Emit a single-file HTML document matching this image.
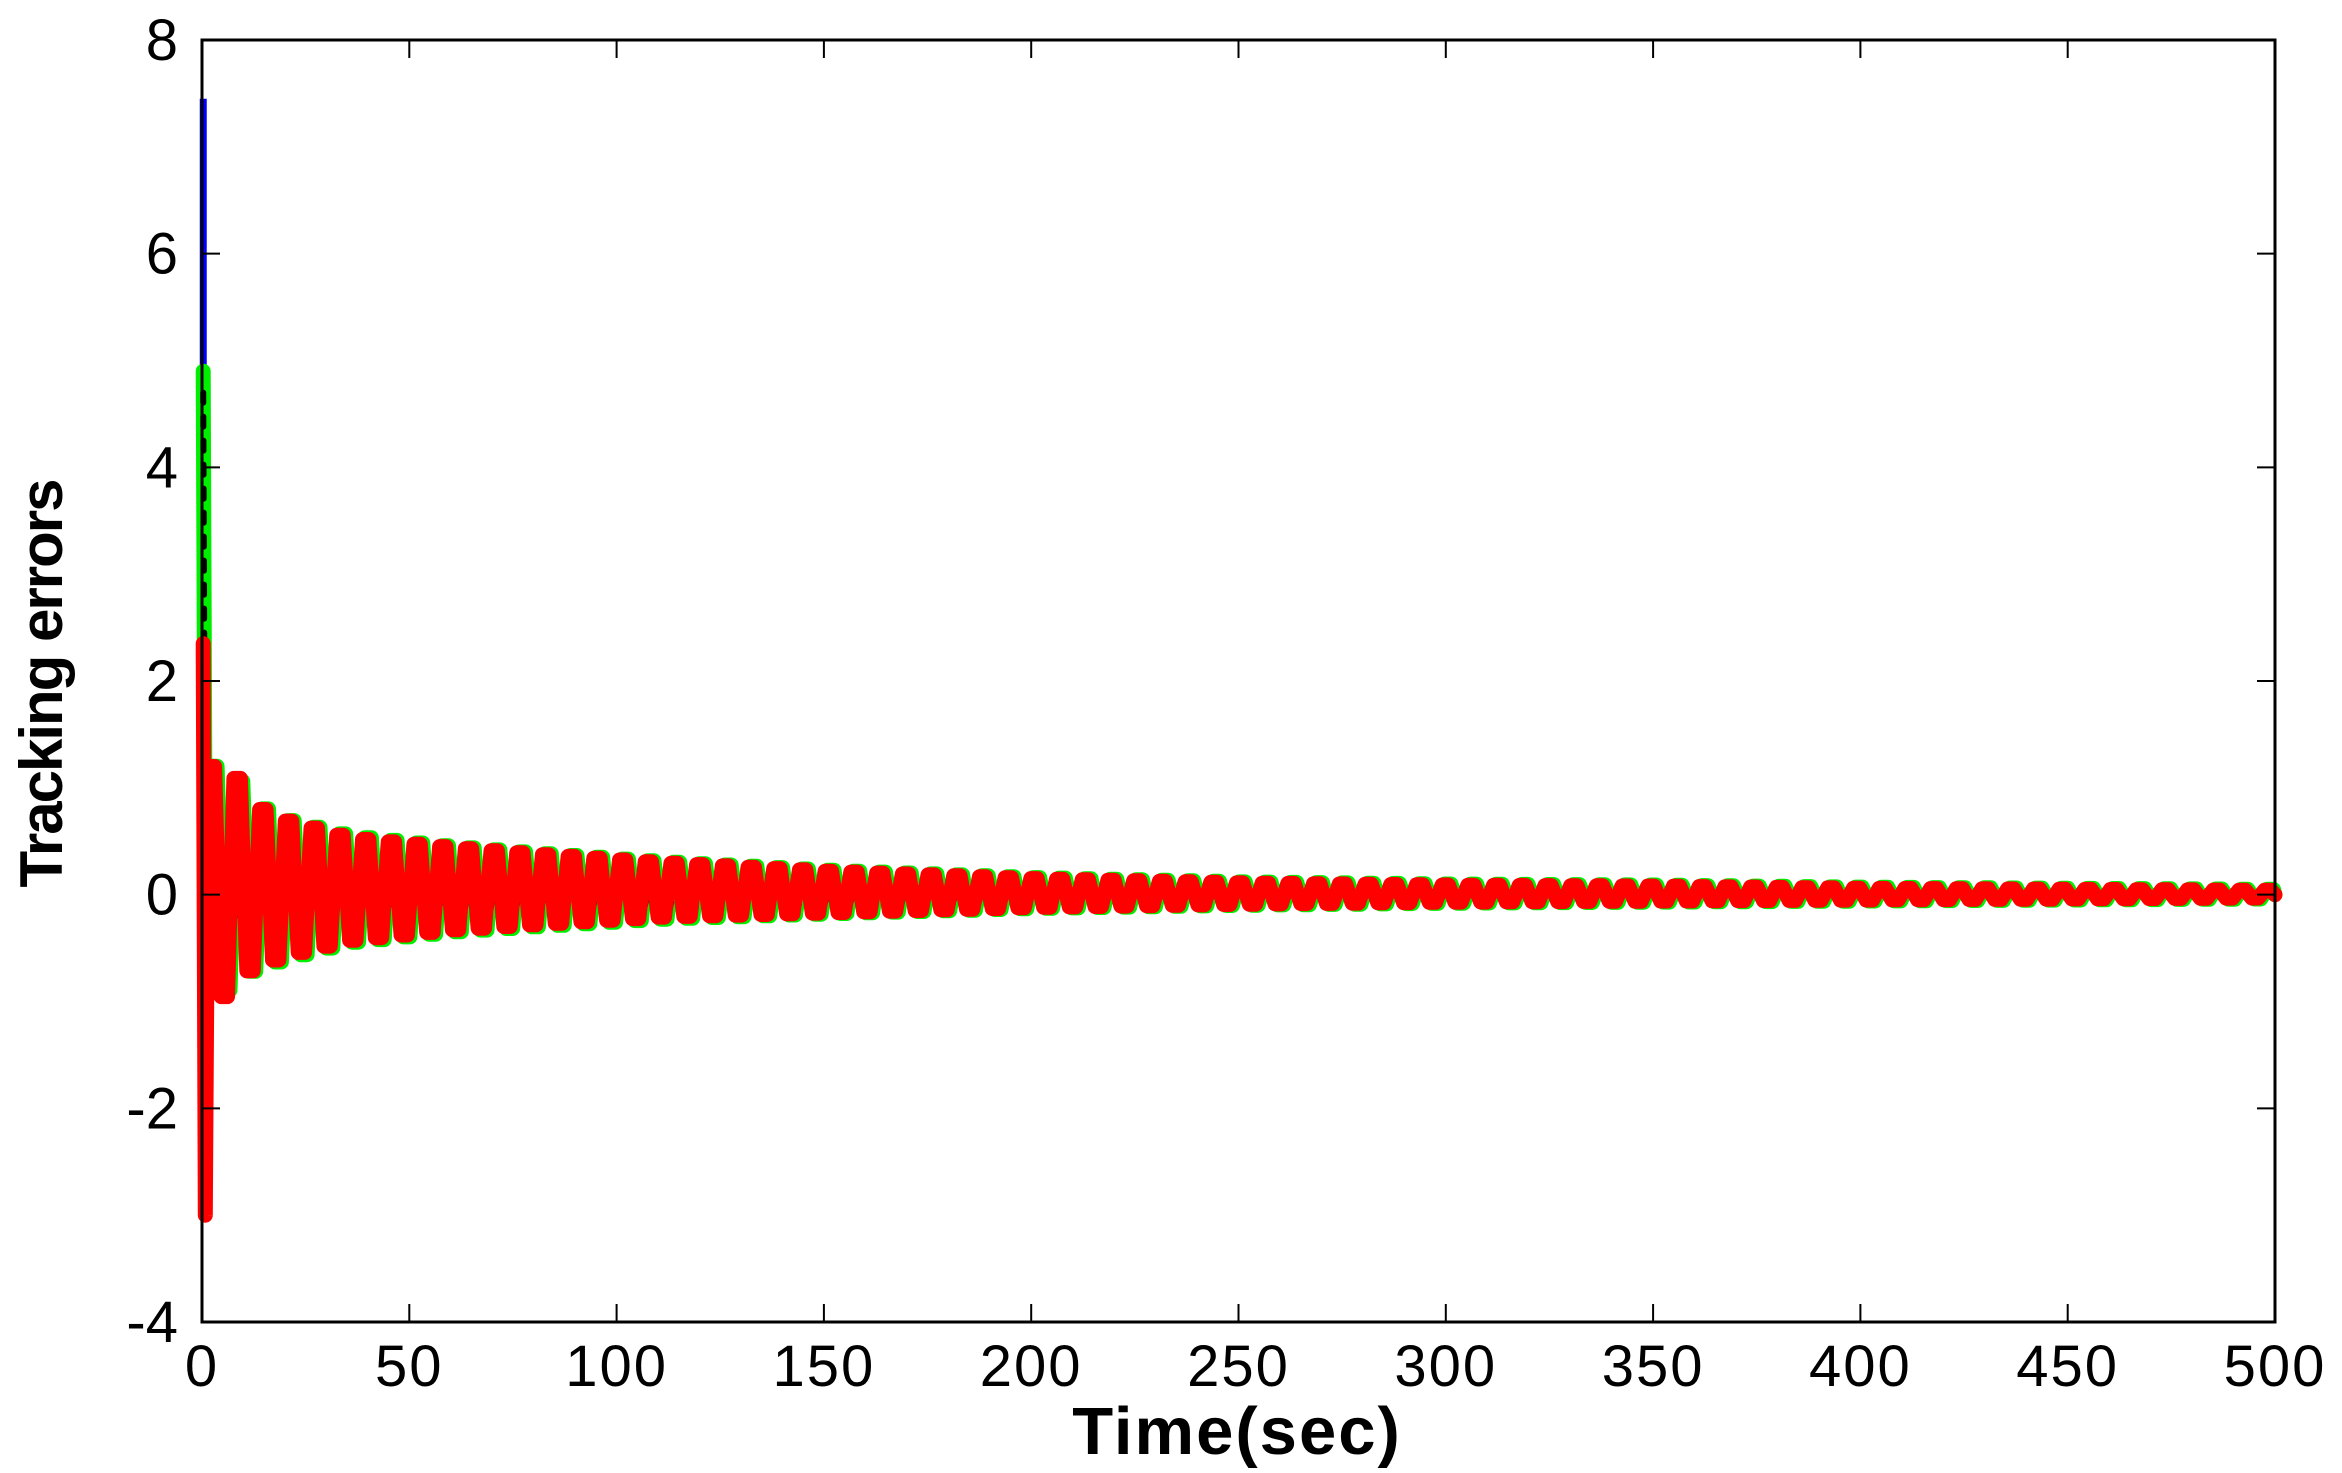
<!DOCTYPE html>
<html><head><meta charset="utf-8"><style>
html,body{margin:0;padding:0;background:#fff;}
svg{display:block;font-family:"Liberation Sans",Arial,sans-serif;}
</style></head><body>
<svg id="chart" width="2342" height="1473">
<g id="series"></g>
<rect x="202" y="40" width="2073" height="1282" fill="none" stroke="#000" stroke-width="3"/>
<g id="axes"></g>
<text x="1237" y="1454" text-anchor="middle" font-size="67" font-weight="bold" letter-spacing="2">Time(sec)</text>
<text transform="translate(62,684) rotate(-90)" text-anchor="middle" font-size="60" font-weight="bold" letter-spacing="-2">Tracking errors</text>
</svg>
<script>
const xTicks=[0,50,100,150,200,250,300,350,400,450,500];
const yTicks=[-4,-2,0,2,4,6,8];
const envT=[2,5,12,20,35,60,80,110,150,200,250,300,350,400,450,500];
const redUpper=[1.2,1.25,0.83,0.69,0.53,0.44,0.38,0.3,0.22,0.15,0.11,0.09,0.08,0.06,0.05,0.04];
const redLower=[-1.5,-0.87,-0.68,-0.57,-0.43,-0.33,-0.28,-0.21,-0.17,-0.12,-0.09,-0.07,-0.06,-0.05,-0.04,-0.03];
const greenUpper=[1.2,1.25,0.85,0.7,0.55,0.45,0.39,0.31,0.23,0.16,0.12,0.1,0.09,0.07,0.06,0.05];
const greenLower=[-1.5,-0.9,-0.7,-0.6,-0.45,-0.35,-0.3,-0.23,-0.18,-0.13,-0.1,-0.08,-0.07,-0.06,-0.05,-0.04];
const blackUpper=[0.6,0.5,0.35,0.3,0.25,0.2,0.18,0.15,0.12,0.08,0.06,0.05,0.04,0.03,0.03,0.02];
const blackLower=[-0.8,-0.5,-0.35,-0.3,-0.25,-0.2,-0.18,-0.15,-0.12,-0.08,-0.06,-0.05,-0.04,-0.03,-0.03,-0.02];
const spikeBlue=[7.45,0];
const spikeGreen=[4.9,0];
const spikeBlack=[4.7,0];
const spikeRed=[2.35,-3.0];
const halfPeriod=3.1;
const X0=202,X1=2275,Y0=1322,Y1=40;
function xs(t){return X0+(t/500)*(X1-X0);}
function ys(v){return Y0-(v+4)/12*(Y0-Y1);}
const NS='http://www.w3.org/2000/svg';
const ax=document.getElementById('axes');
xTicks.forEach(t=>{
  const l=document.createElementNS(NS,'path');
  l.setAttribute('d',`M${xs(t)},${Y0}v-18M${xs(t)},${Y1}v18`);
  l.setAttribute('stroke','#000');l.setAttribute('stroke-width','2');
  
  
  ax.appendChild(l);
  const tx=document.createElementNS(NS,'text');
  tx.setAttribute('x',xs(t));tx.setAttribute('y',Y0+64);
  tx.setAttribute('text-anchor','middle');tx.setAttribute('font-size','58');
  tx.setAttribute('letter-spacing','2');
  tx.textContent=t;
  
  
  ax.appendChild(tx);
});
yTicks.forEach(v=>{
  const l=document.createElementNS(NS,'path');
  l.setAttribute('d',`M${X0},${ys(v)}h18M${X1},${ys(v)}h-18`);
  l.setAttribute('stroke','#000');l.setAttribute('stroke-width','2');
  
  
  ax.appendChild(l);
  const tx=document.createElementNS(NS,'text');
  tx.setAttribute('x',X0-24);tx.setAttribute('y',ys(v)+20);
  tx.setAttribute('text-anchor','end');tx.setAttribute('font-size','58');
  tx.textContent=v;
  
  
  ax.appendChild(tx);
});
function interp(arr,t){
  if(t<=envT[0])return arr[0];
  for(let i=1;i<envT.length;i++){if(t<=envT[i]){const f=(t-envT[i-1])/(envT[i]-envT[i-1]);return arr[i-1]+f*(arr[i]-arr[i-1]);}}
  return arr[arr.length-1];
}
const sg=document.getElementById('series');
function drawSeries(name,color,width,up,lo,spike,phase,dash){
  let pts=[[0.3,spike[0]],[0.8,spike[1]]];
  let k=0;
  for(let t=1.5+phase;t<500;t+=halfPeriod){
    const v=(k%2===0)?interp(up,t):interp(lo,t);
    pts.push([t,v]);pts.push([Math.min(t+halfPeriod*0.5,500),v]);k++;
  }
  pts.push([500,0]);
  const p=document.createElementNS(NS,'polyline');
  p.setAttribute('points',pts.map(q=>xs(q[0]).toFixed(1)+','+ys(q[1]).toFixed(1)).join(' '));
  p.setAttribute('fill','none');p.setAttribute('stroke',color);
  p.setAttribute('stroke-width',width);p.setAttribute('stroke-linejoin','round');p.setAttribute('stroke-linecap','round');
  if(dash)p.setAttribute('stroke-dasharray',dash);
  
  
  sg.appendChild(p);
}
const b=document.createElementNS(NS,'line');
b.setAttribute('x1',xs(0.3));b.setAttribute('x2',xs(0.3));
b.setAttribute('y1',ys(spikeBlue[0]));b.setAttribute('y2',ys(spikeBlue[1]));
b.setAttribute('stroke','#0000ff');b.setAttribute('stroke-width','7');


sg.appendChild(b);
drawSeries('series-green','#00ee00',15,greenUpper,greenLower,spikeGreen,0.6,null);
drawSeries('series-black','#000',6,blackUpper,blackLower,spikeBlack,1.2,'10,14');
drawSeries('series-red','#ff0000',15,redUpper,redLower,spikeRed,0,null);
</script>
</body></html>
